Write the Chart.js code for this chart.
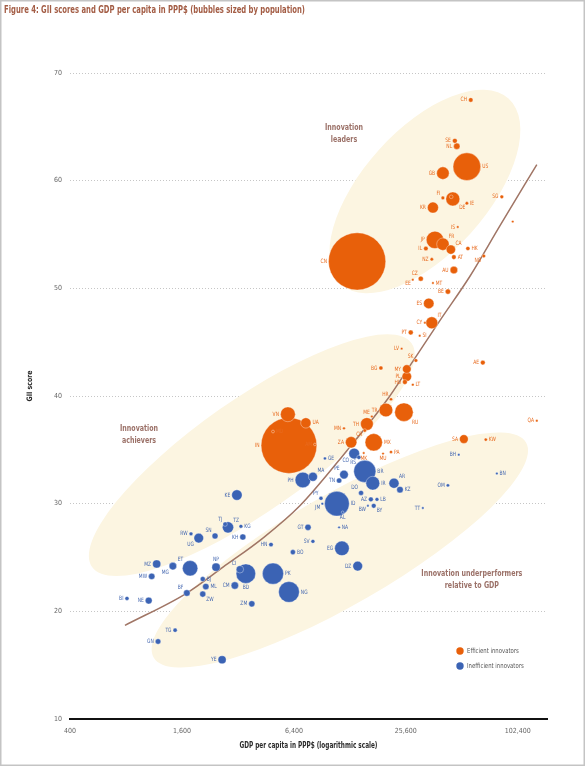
<!DOCTYPE html>
<html>
<head>
<meta charset="utf-8">
<script src="https://cdn.jsdelivr.net/npm/chart.js@4.4.1/dist/chart.umd.min.js"></script>
<style>
  html, body { margin: 0; padding: 0; background: #fff; }
</style>
</head>
<body>
<canvas id="giiChart" width="585" height="766"></canvas>
<script>
var NARROW = "'Liberation Sans Narrow', 'DejaVu Sans Condensed', sans-serif";
var ORANGE = '#e8600a';
var BLUE = '#3b63b4';
var BROWN = '#a07565';

// axis ticks
var xTicks = [400, 1600, 6400, 25600, 102400];
var yTicks = [10, 20, 30, 40, 50, 60, 70];

// efficient innovators (orange)
var effCodes = ['CH','SE','NL','US','GB','FI','DE','DK','IE','SG','KR','IS','JP','FR','CA','IL','HK','NZ','AT','NO','AU','CN','CZ','EE','MT','BE','LU','ES','IT','CY','PT','SI','LV','SK','AE','BG','MY','PL','HU','LT','HR','TR','RU','QA','UA','VN','IN','MD','AM','TH','ME','CR','MN','ZA','MX','MK','PA','MU','SA','KW'];
var effGdp = [57200,46960,48100,54500,40500,40500,45800,44900,54500,84000,35800,48700,36700,40500,44700,32800,55200,35300,46400,67200,46400,14000,30800,27900,35800,43100,96200,34000,35300,32400,27200,30400,24300,29000,66400,18800,25900,25900,25300,27900,21300,20000,25000,129600,7420,5940,6020,4940,8300,15800,16800,15400,11900,13000,17200,15200,21300,19300,52500,68900];
var effGii = [67.5,63.7,63.2,61.3,60.7,58.4,58.3,58.5,57.9,58.5,57.5,55.7,54.5,54.1,53.6,53.7,53.7,52.7,52.9,53.0,51.7,52.5,50.9,50.8,50.5,49.7,56.2,48.6,46.8,46.8,45.9,45.6,44.4,43.3,43.1,42.6,42.5,41.8,41.3,41.05,39.7,38.7,38.5,37.7,37.5,38.3,35.4,36.7,35.5,37.4,38.1,36.8,37.0,35.7,35.7,34.7,34.8,34.65,36.0,35.95];
var effPop = [8.5,10,17,323,66,5.5,82,5.7,4.7,5.6,51,0.33,127,65,36,8.5,7.3,4.7,8.7,5.2,24,1380,10.6,1.3,0.44,11.3,0.58,46,60,1.2,10.3,2.1,2.0,5.4,9.3,7.1,31,38,9.8,2.9,4.2,79,144,2.6,45,93,1310,3.5,3.0,68,0.62,4.9,3.0,55,127,2.1,4.0,1.3,32,4.1];

// inefficient innovators (blue)
var inefCodes = ['RS','GE','BH','BN','OM','TT','CO','BR','IR','PE','TN','MA','PH','AR','KZ','DO','ID','PY','JM','LB','AZ','BW','BY','AL','GT','NA','SV','EG','DZ','HN','BO','KG','KH','TZ','TJ','KE','RW','SN','UG','MZ','MG','ET','NP','MW','CI','BD','PK','BJ','ML','CM','NG','BF','ZW','BI','NE','ZM','TG','GN','YE'];
var inefGdp = [14300,9400,49300,79000,43100,31600,13500,15400,17000,11900,11200,8100,7150,22100,23800,14700,10900,8950,9100,17900,16600,16000,17200,11700,7620,11200,8100,11600,14100,4820,6320,3320,3400,2830,2730,3160,1790,2410,1970,1170,1430,1770,2440,1100,3280,3530,4940,2070,2150,3080,6020,1700,2070,810,1060,3800,1470,1190,2630];
var inefGii = [34.3,34.2,34.55,32.8,31.7,29.6,34.65,33.0,31.9,32.7,32.15,32.5,32.2,31.9,31.3,31.0,30.0,30.5,30.0,30.4,30.4,29.8,29.8,29.2,27.8,27.8,26.5,25.85,24.2,26.2,25.5,27.9,26.9,27.8,28.1,30.8,27.2,27.0,26.8,24.4,24.2,24.0,24.1,23.25,23.9,23.5,23.5,23.0,22.3,22.4,21.8,21.7,21.6,21.2,21.0,20.7,18.25,17.2,15.5];
var inefPop = [7.1,3.7,1.4,0.42,4.4,1.4,48,206,80,31,11.3,34,102,43,17.8,10.6,258,6.7,2.8,5.9,9.7,2.2,9.5,2.9,16.3,2.4,6.3,89,40,8.2,10.9,6.0,15.6,53,8.5,46,6,15,39,28,24,99,28.5,17,23,161,189,10.6,17,23,182,18,15.6,7,19.9,16.2,7.3,12.6,27.5];

// fitted trend curve
var trendGdp = [790,1700,2660,4360,6890,12300,20200,26900,39000,56500,82000,129600];
var trendGii = [18.7,21.7,24.1,26.8,29.8,34.9,39.6,42.8,47.0,51.1,55.8,61.5];

// shaded groups
var zoneText = [['Innovation','leaders'], ['Innovation','achievers'], ['Innovation underperformers','relative to GDP']];
var zoneGdp = [32400, 3800, 11300];
var zoneGii = [59.0, 34.5, 25.7];
var zoneTextGdp = [11900, 940, 57950];
var zoneTextGii = [64.3, 36.4, 22.9];
var zoneShape = [[125, 62, -48], [195, 56, -35], [215, 55, -30]];

// where the country code sits next to its bubble (default left)
var labelSide = {
  US:'r', IE:'r', HK:'r', AT:'r', MT:'r', SI:'r', LT:'r', UA:'r', MD:'r', MX:'r', PA:'r', KW:'r',
  FI:'tl', DE:'br', FR:'tr', CA:'tr', NO:'bl', CZ:'tl', EE:'bl', IT:'tr', SK:'tl', HR:'tl', RU:'br',
  ME:'tl', CR:'bl', MK:'b', MU:'b',
  GE:'r', BN:'r', BR:'r', IR:'r', MA:'tr', AR:'tr', KZ:'r', ID:'r', LB:'r', BY:'br', NA:'r', BO:'r',
  KG:'r', PK:'r', BJ:'r', ML:'r', NG:'r', ZW:'br', TZ:'tr', TJ:'tl', SN:'tl', UG:'bl', MG:'bl',
  ET:'tl', NP:'t', CI:'tl', BD:'b', BF:'tl', CO:'bl', PE:'tl', DO:'tl', PY:'tl', JM:'bl', BW:'bl',
  AL:'b', RS:'bl', DK:'none', LU:'none'
};

function bubbles(codes, gdp, gii, pop) {
  var pts = codes.map(function(c, i) {
    return { x: gdp[i], y: gii[i], r: Math.max(1.2, 0.77 * Math.sqrt(pop[i])), code: c, pop: pop[i] };
  });
  pts.sort(function(a, b) { return b.pop - a.pop; });
  return pts;
}

var trendData = trendGdp.map(function(g, i) { return { x: g, y: trendGii[i] }; });

// condensed text: squeeze horizontally, the original uses a narrow face
function squeezeText(ctx, text, x, y, sx, rot) {
  ctx.save();
  ctx.translate(x, y);
  if (rot) ctx.rotate(rot);
  ctx.scale(sx, 1);
  ctx.fillText(text, 0, 0);
  ctx.restore();
}

var giiPlugin = {
  id: 'giiDecor',
  beforeDatasetsDraw: function(chart) {
    var ctx = chart.ctx, xs = chart.scales.x, ys = chart.scales.y;
    ctx.save();
    ctx.fillStyle = '#fcf5e1';
    zoneGdp.forEach(function(g, i) {
      var s = zoneShape[i];
      ctx.beginPath();
      ctx.ellipse(xs.getPixelForValue(g), ys.getPixelForValue(zoneGii[i]), s[0], s[1], s[2] * Math.PI / 180, 0, Math.PI * 2);
      ctx.fill();
    });
    ctx.fillStyle = '#9b7168';
    ctx.font = 'bold 8px ' + NARROW;
    ctx.textAlign = 'center';
    ctx.textBaseline = 'middle';
    var zf = 101 / ctx.measureText('Innovation underperformers').width;
    zoneText.forEach(function(lines, i) {
      var x = xs.getPixelForValue(zoneTextGdp[i]), y = ys.getPixelForValue(zoneTextGii[i]);
      lines.forEach(function(t, k) {
        squeezeText(ctx, t, x, y + (k - (lines.length - 1) / 2) * 12, zf);
      });
    });
    ctx.restore();
  },
  afterDatasetsDraw: function(chart) {
    var ctx = chart.ctx;
    ctx.save();
    ctx.font = '6px ' + NARROW;
    chart.data.datasets.forEach(function(ds, di) {
      if (ds.type === 'line') return;
      var meta = chart.getDatasetMeta(di);
      ctx.fillStyle = ds.labelColor;
      meta.data.forEach(function(el, j) {
        var p = ds.data[j];
        var side = labelSide[p.code] || 'l';
        if (side === 'none') return;
        var r = el.options.radius, gap = 1.5;
        var x = el.x, y = el.y;
        ctx.textAlign = 'center';
        ctx.textBaseline = 'middle';
        if (side === 'l') { x -= r + gap; ctx.textAlign = 'right'; }
        else if (side === 'r') { x += r + gap; ctx.textAlign = 'left'; }
        else if (side === 't') { y -= r + 4; }
        else if (side === 'b') { y += r + 4; }
        else {
          var d = (r + gap) * 0.75;
          y += side.charAt(0) === 't' ? -d - 2 : d + 2;
          if (side.charAt(1) === 'l') { x -= d; ctx.textAlign = 'right'; }
          else { x += d; ctx.textAlign = 'left'; }
        }
        squeezeText(ctx, p.code, x, y, 0.82);
      });
    });
    ctx.restore();
  },
  afterDraw: function(chart) {
    var ctx = chart.ctx, area = chart.chartArea;
    ctx.save();
    ctx.textBaseline = 'middle';
    // legend
    var lx = area.right - 87, ly = area.bottom - 68;
    [['Efficient innovators', ORANGE], ['Inefficient innovators', BLUE]].forEach(function(it, i) {
      ctx.fillStyle = it[1];
      ctx.beginPath();
      ctx.arc(lx, ly + i * 15, 3.7, 0, Math.PI * 2);
      ctx.fill();
      ctx.fillStyle = '#555';
      ctx.font = '7px ' + NARROW;
      ctx.textAlign = 'left';
      squeezeText(ctx, it[0], lx + 7, ly + i * 15, 0.85);
    });
    // axis titles
    ctx.fillStyle = '#2a2a2a';
    ctx.textAlign = 'center';
    ctx.font = 'bold 8.5px ' + NARROW;
    var xt = 'GDP per capita in PPP$ (logarithmic scale)';
    squeezeText(ctx, xt, (area.left + area.right) / 2, 746, 138 / ctx.measureText(xt).width);
    ctx.font = 'bold 7.5px ' + NARROW;
    squeezeText(ctx, 'GII score', 30, 386, 31 / ctx.measureText('GII score').width, -Math.PI / 2);
    // title
    ctx.fillStyle = '#a35c44';
    ctx.font = 'bold 10px ' + NARROW;
    ctx.textAlign = 'left';
    var tt = 'Figure 4: GII scores and GDP per capita in PPP$ (bubbles sized by population)';
    squeezeText(ctx, tt, 4, 10, 301 / ctx.measureText(tt).width);
    // frame
    ctx.strokeStyle = '#c4c4c4';
    ctx.lineWidth = 1.5;
    ctx.strokeRect(0.75, 0.75, chart.width - 1.5, chart.height - 1.5);
    ctx.restore();
  }
};

var ctx = document.getElementById('giiChart').getContext('2d');
var giiChart = new Chart(ctx, {
  type: 'bubble',
  data: {
    datasets: [
      {
        label: 'Inefficient innovators',
        data: bubbles(inefCodes, inefGdp, inefGii, inefPop),
        backgroundColor: BLUE,
        borderColor: 'rgba(255,255,255,0.45)',
        borderWidth: 0.8,
        labelColor: '#4467b0',
        order: 1
      },
      {
        label: 'Efficient innovators',
        data: bubbles(effCodes, effGdp, effGii, effPop),
        backgroundColor: ORANGE,
        borderColor: 'rgba(255,255,255,0.45)',
        borderWidth: 0.8,
        labelColor: '#e86a1e',
        order: 2
      },
      {
        type: 'line',
        label: 'trend',
        data: trendData,
        borderColor: BROWN,
        borderWidth: 1.5,
        pointRadius: 0,
        cubicInterpolationMode: 'monotone',
        fill: false,
        order: 3
      }
    ]
  },
  options: {
    responsive: false,
    devicePixelRatio: 1,
    animation: false,
    layout: { padding: { top: 73, right: 38, bottom: 0, left: 0 } },
    plugins: {
      legend: { display: false },
      tooltip: { enabled: false },
      title: { display: false }
    },
    scales: {
      x: {
        type: 'logarithmic',
        min: 400,
        max: 147000,
        afterBuildTicks: function(scale) {
          scale.ticks = xTicks.map(function(v) { return { value: v }; });
        },
        afterFit: function(scale) { scale.height = 47; },
        ticks: {
          autoSkip: false,
          maxRotation: 0,
          padding: 8,
          color: '#666',
          font: { family: NARROW, size: 7 },
          callback: function(v) { return Number(v).toLocaleString('en-US'); }
        },
        grid: { color: 'rgba(0,0,0,0)', drawTicks: false },
        border: { display: true, color: '#111', width: 2 },
        title: { display: false }
      },
      y: {
        min: 10,
        max: 70,
        afterBuildTicks: function(scale) {
          scale.ticks = yTicks.map(function(v) { return { value: v }; });
        },
        afterFit: function(scale) { scale.width = 70; },
        ticks: {
          padding: 8,
          color: '#666',
          font: { family: NARROW, size: 7 }
        },
        grid: {
          drawTicks: false,
          lineWidth: 1,
          color: function(c) { return c.tick && c.tick.value === 10 ? 'rgba(0,0,0,0)' : '#c6c6c6'; }
        },
        border: { display: false, dash: [1, 2] },
        title: { display: false }
      }
    }
  },
  plugins: [giiPlugin]
});
</script>
</body>
</html>
